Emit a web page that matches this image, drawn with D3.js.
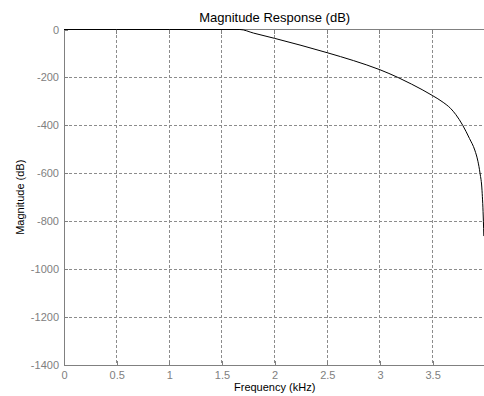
<!DOCTYPE html>
<html>
<head>
<meta charset="utf-8">
<script src="https://cdn.jsdelivr.net/npm/d3@7"></script>
<style>
body { margin: 0; background: #fff; }
text { font-family: "Liberation Sans", Arial, sans-serif; }
</style>
</head>
<body>
<div id="chart"></div>
<script>
// frequency (kHz) and magnitude (dB)
var freq = [0, 0.5, 1.0, 1.5, 1.67, 1.8, 2.0, 2.25, 2.5, 2.75, 3.0, 3.17, 3.3, 3.4, 3.5, 3.6, 3.67, 3.72, 3.786, 3.85, 3.90, 3.93, 3.95, 3.969, 3.982, 3.986];
var magDb = [0, 0, 0, 0, 0, -15, -37, -66, -97, -130, -168, -200, -228, -251, -276, -304, -329, -355, -400, -455, -503, -550, -600, -673, -800, -862];
var xTicks = [0, 0.5, 1, 1.5, 2, 2.5, 3, 3.5];
var yTicks = [0, -200, -400, -600, -800, -1000, -1200, -1400];

var margin = {top: 29.5, right: -1.3, bottom: 31, left: 64},
    width = 484 - margin.left - margin.right,
    height = 396 - margin.top - margin.bottom;

var x = d3.scaleLinear().domain([0, 4]).range([0, width]);
var y = d3.scaleLinear().domain([-1400, 0]).range([height, 0]);

var svg = d3.select("#chart").append("svg")
    .attr("width", 484)
    .attr("height", 396)
    .style("overflow", "hidden");

var g = svg.append("g")
    .attr("transform", "translate(" + margin.left + "," + margin.top + ")");

// grid
g.selectAll(".vgrid")
    .data(xTicks.slice(1))
    .enter().append("line")
    .attr("x1", function(d) { return x(d); })
    .attr("x2", function(d) { return x(d); })
    .attr("y1", 0).attr("y2", height)
    .attr("stroke", "#8c8c8c")
    .attr("stroke-width", 1)
    .attr("stroke-dasharray", "3,2")
    .attr("shape-rendering", "crispEdges");

g.selectAll(".hgrid")
    .data(yTicks.slice(1, -1))
    .enter().append("line")
    .attr("y1", function(d) { return y(d); })
    .attr("y2", function(d) { return y(d); })
    .attr("x1", 0).attr("x2", width)
    .attr("stroke", "#8c8c8c")
    .attr("stroke-width", 1)
    .attr("stroke-dasharray", "3,2")
    .attr("shape-rendering", "crispEdges");

// axes
var plain = function(d) { return String(d); };
var xAxis = d3.axisBottom(x).tickValues(xTicks).tickSize(-4).tickPadding(6).tickFormat(plain);
var yAxis = d3.axisLeft(y).tickValues(yTicks).tickSize(-4).tickPadding(5).tickFormat(plain);

var gx = g.append("g")
    .attr("transform", "translate(0," + height + ")")
    .call(xAxis);
var gy = g.append("g").call(yAxis);

[gx, gy].forEach(function(a) {
    a.select(".domain").remove();
    a.selectAll("line").attr("stroke", "#808080").attr("shape-rendering", "crispEdges");
    a.selectAll("text").attr("fill", "#808080").style("font-size", "11px");
});
gx.selectAll("text").attr("dy", "0.71em");

// top ticks
g.selectAll(".ttick")
    .data(xTicks)
    .enter().append("line")
    .attr("x1", function(d) { return x(d); })
    .attr("x2", function(d) { return x(d); })
    .attr("y1", 0).attr("y2", 4)
    .attr("stroke", "#808080")
    .attr("shape-rendering", "crispEdges");

// box
g.append("rect")
    .attr("x", 0).attr("y", 0)
    .attr("width", width).attr("height", height)
    .attr("fill", "none")
    .attr("stroke", "#808080")
    .attr("stroke-width", 1)
    .attr("shape-rendering", "crispEdges");

// response curve
var points = freq.map(function(f, i) { return [f, magDb[i]]; });
var line = d3.line()
    .x(function(d) { return x(d[0]); })
    .y(function(d) { return y(d[1]); })
    .curve(d3.curveMonotoneX);

g.append("path")
    .datum(points)
    .attr("d", line)
    .attr("fill", "none")
    .attr("stroke", "#000")
    .attr("stroke-width", 1);

// labels
svg.append("text")
    .attr("x", margin.left + x(2))
    .attr("y", 22)
    .attr("text-anchor", "middle")
    .style("font-size", "13px")
    .attr("fill", "#000")
    .text("Magnitude Response (dB)");

svg.append("text")
    .attr("x", margin.left + x(2))
    .attr("y", 391)
    .attr("text-anchor", "middle")
    .style("font-size", "11px")
    .attr("fill", "#000")
    .text("Frequency (kHz)");

svg.append("text")
    .attr("transform", "translate(24," + (margin.top + height / 2) + ") rotate(-90)")
    .attr("text-anchor", "middle")
    .style("font-size", "11px")
    .attr("fill", "#000")
    .text("Magnitude (dB)");
</script>
</body>
</html>
